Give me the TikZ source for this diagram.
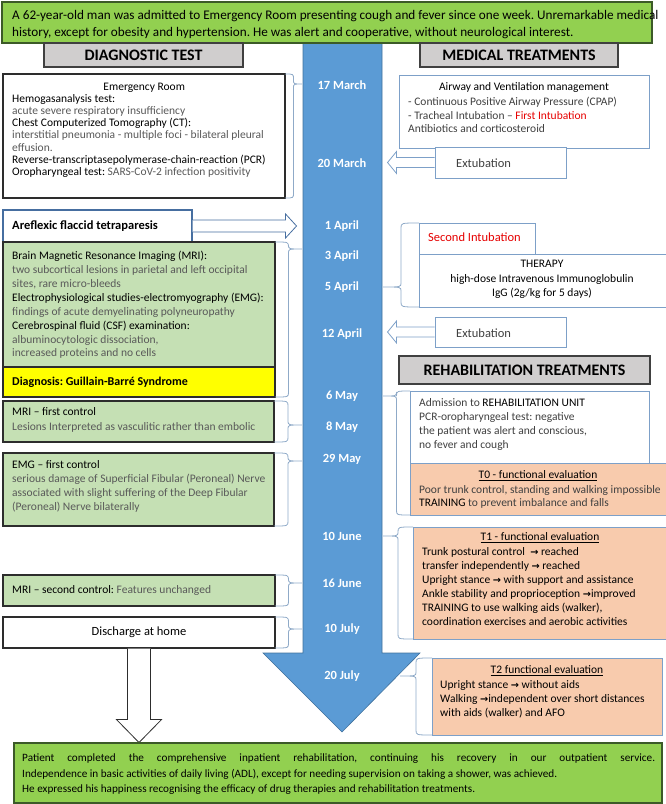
\documentclass[tikz,border=0pt]{standalone}
\usepackage{fontspec}
\setmainfont{Carlito}
\newfontfamily\symf[Scale=0.85]{DejaVu Sans}
\usetikzlibrary{calc,fit}
\AtBeginDocument{\frenchspacing}
\definecolor{bannerg}{RGB}{146,208,80}
\definecolor{bannerd}{RGB}{60,90,40}
\definecolor{hdrg}{RGB}{208,206,206}
\definecolor{hdrd}{RGB}{64,64,64}
\definecolor{shaftb}{RGB}{91,155,213}
\definecolor{shaftd}{RGB}{65,113,156}
\definecolor{lgreen}{RGB}{197,224,180}
\definecolor{peach}{RGB}{248,203,173}
\definecolor{ylw}{RGB}{255,255,0}
\definecolor{bracec}{RGB}{143,170,200}
\definecolor{rbord}{RGB}{125,160,200}
\definecolor{ldark}{RGB}{45,45,45}
\definecolor{dgray}{RGB}{89,89,89}
\definecolor{tgray}{RGB}{64,64,64}
\definecolor{redt}{RGB}{230,0,0}
\definecolor{arrb}{RGB}{70,110,160}
\newcommand{\rarw}{{\symf\bfseries →}}
\newcommand{\tlbrace}[5]{%
  \draw[bracestyle] (#1,#2) .. controls ({(#1+#4)/2},#2) .. ({(#1+#4)/2},{#2+5})
    -- ({(#1+#4)/2},{#5-4}) .. controls ({(#1+#4)/2},#5) .. (#4,#5)
    .. controls ({(#1+#4)/2},#5) .. ({(#1+#4)/2},{#5+4})
    -- ({(#1+#4)/2},{#3-5}) .. controls ({(#1+#4)/2},#3) .. (#1,#3);}
\begin{document}
\begin{tikzpicture}[x=1pt,y=-1pt,
  frameL/.style={draw=ldark,line width=1.1pt,inner sep=0pt},
  frameR/.style={draw=rbord,line width=0.9pt,inner sep=0pt},
  hdr/.style={draw=hdrd,fill=hdrg,line width=1.1pt,inner sep=0pt,font=\fontsize{16}{18}\selectfont\bfseries},
  txt/.style={inner sep=0pt,anchor=north west,align=left,font=\fontsize{11.5}{14}\selectfont},
  one/.style={inner sep=0pt,anchor=west},
  dt/.style={text=white,font=\fontsize{12.5}{14}\selectfont\bfseries,inner sep=0pt},
  bracestyle/.style={draw=bracec,line width=0.8pt},
  blk/.style={draw=arrb,line width=0.8pt,fill=white,line join=miter},
  ]
\useasboundingbox (0,0) rectangle (666,804);
% central time arrow
\filldraw[fill=shaftb,draw=shaftd,line width=0.6pt] (303,43) -- (382,43) -- (382,653) -- (420,653) -- (342,732) -- (263,653) -- (303,653) -- cycle;
% banner
\node[fit={(2,2) (652,43)},fill=bannerg,draw=bannerd,line width=1.2pt,inner sep=0pt] (banner) {};
\node[txt,font=\fontsize{13.2}{16.5}\selectfont] (bannertext) at (12,10.5) {A 62-year-old man was admitted to Emergency Room presenting cough and fever since one week. Unremarkable medical\\history, except for obesity and hypertension. He was alert and cooperative, without neurological interest.};
% headers
\node[hdr,fit={(44,43) (243,67)}] (hdiag) {};
\node[font=\fontsize{16}{18}\selectfont\bfseries,inner sep=0pt] (hdiagt) at (hdiag.center) {DIAGNOSTIC TEST};
\node[hdr,fit={(420,43) (618,67)}] (hmed) {};
\node[font=\fontsize{16}{18}\selectfont\bfseries,inner sep=0pt] (hmedt) at (hmed.center) {MEDICAL TREATMENTS};
\node[hdr,fit={(399,356) (650,384)}] (hreh) {};
\node[font=\fontsize{16}{18}\selectfont\bfseries,inner sep=0pt] (hreht) at (hreh.center) {REHABILITATION TREATMENTS};
% dates
\node[dt] (d1) at (342,85) {17 March};
\node[dt] (d2) at (342,163) {20 March};
\node[dt] (d3) at (342,226) {1 April};
\node[dt] (d4) at (342,256) {3 April};
\node[dt] (d5) at (342,287) {5 April};
\node[dt] (d6) at (342,334) {12 April};
\node[dt] (d7) at (342,396) {6 May};
\node[dt] (d8) at (342,427) {8 May};
\node[dt] (d9) at (342,459) {29 May};
\node[dt] (d10) at (342,536) {10 June};
\node[dt] (d11) at (342,583) {16 June};
\node[dt] (d12) at (342,629) {10 July};
\node[dt] (d13) at (342,676) {20 July};
% ---------------- left column
\node[frameL,fill=white,fit={(3,74) (285,198)}] (er) {};
\node[txt,font=\fontsize{11.5}{12.1}\selectfont] (ertext) at (12,83) {\makebox[264pt]{Emergency Room}\\
Hemogasanalysis test:\\
\textcolor{dgray}{acute severe respiratory insufficiency}\\
Chest Computerized Tomography (CT):\\
\textcolor{dgray}{interstitial pneumonia - multiple foci - bilateral pleural}\\
\textcolor{dgray}{effusion.}\\
Reverse-transcriptasepolymerase-chain-reaction (PCR)\\
Oropharyngeal test: \textcolor{dgray}{SARS-CoV-2 infection positivity}};
\node[frameL,draw=arrb,fill=white,fit={(3,210) (192,242)}] (are) {};
\node[one,font=\fontsize{12.5}{14}\selectfont\bfseries] (aretext) at (12,226) {Areflexic flaccid tetraparesis};
\draw[blk] ($(are.east)+(0,-6)$) -- ++(93,0) -- ++(0,-6) -- ++(11,12) -- ++(-11,12) -- ++(0,-6) -- ++(-93,0);
\node[frameL,fill=lgreen,fit={(3,242) (275,367)}] (gbox) {};
\node[txt,font=\fontsize{11.5}{13.9}\selectfont] (gtext) at (12,251) {Brain Magnetic Resonance Imaging (MRI):\\
\textcolor{dgray}{two subcortical lesions in parietal and left occipital}\\
\textcolor{dgray}{sites, rare micro-bleeds}\\
Electrophysiological studies-electromyography (EMG):\\
\textcolor{dgray}{findings of acute demyelinating polyneuropathy}\\
Cerebrospinal fluid (CSF) examination:\\
\textcolor{dgray}{albuminocytologic dissociation,}\\
\textcolor{dgray}{increased proteins and no cells}};
\node[frameL,fill=ylw,fit={(3,367) (275,397)}] (diag) {};
\node[one,font=\fontsize{12}{14}\selectfont\bfseries] (diagtext) at (12,382) {Diagnosis: Guillain-Barré Syndrome};
\node[frameL,fill=lgreen,fit={(3,401) (274,442)}] (mri1) {};
\node[txt,font=\fontsize{11.5}{15}\selectfont] (mri1text) at (12,407) {MRI -- first control\\
\textcolor{dgray}{Lesions Interpreted as vasculitic rather than embolic}};
\node[frameL,fill=lgreen,fit={(3,453) (274,526)}] (emg1) {};
\node[txt] (emg1text) at (12,460) {EMG -- first control\\
\textcolor{dgray}{serious damage of Superficial Fibular (Peroneal) Nerve}\\
\textcolor{dgray}{associated with slight suffering of the Deep Fibular}\\
\textcolor{dgray}{(Peroneal) Nerve bilaterally}};
\node[frameL,fill=lgreen,fit={(3,575) (275,606)}] (mri2) {};
\node[one,font=\fontsize{11.5}{14}\selectfont] (mri2text) at (12,590) {MRI -- second control: \textcolor{dgray}{Features unchanged}};
\node[frameL,fill=white,fit={(3,617) (275,648)}] (dis) {};
\node[font=\fontsize{12.5}{14}\selectfont,inner sep=0pt] (distext) at (139,632) {Discharge at home};
\draw[blk,draw=ldark] ($(dis.south)+(-11.5,0)$) -- ++(0,71) -- ++(-11,0) -- ++(22.5,23) -- ++(22.5,-23) -- ++(-11,0) -- ++(0,-71);
% left braces
\tlbrace{285}{74}{198}{302}{84}
\tlbrace{275}{242}{397}{302}{249}
\tlbrace{274}{401}{442}{302}{425}
\tlbrace{274}{453}{526}{302}{461}
\tlbrace{275}{575}{606}{302}{583}
\tlbrace{275}{617}{648}{302}{629}
% ---------------- right column
\node[frameR,fill=white,fit={(399,75) (649,148)}] (air) {};
\node[font=\fontsize{11.5}{14}\selectfont,inner sep=0pt] (airtitle) at (524,87) {Airway and Ventilation management};
\node[txt,font=\fontsize{11.5}{13.5}\selectfont] (airtext) at (408,97) {\textcolor{tgray}{- Continuous Positive Airway Pressure (CPAP)}\\
\textcolor{tgray}{- Tracheal Intubation --} \textcolor{redt}{First Intubation}\\
\textcolor{tgray}{Antibiotics and corticosteroid}};
\node[frameR,fill=white,fit={(435,147) (566,178)}] (ext1) {};
\node[one,font=\fontsize{12.5}{14}\selectfont,text=tgray] (ext1text) at (456,163) {Extubation};
\draw[blk,draw=rbord] ($(ext1.west)+(0,-5)$) -- ++(-38,0) -- ++(0,-6) -- ++(-9,11) -- ++(9,11) -- ++(0,-6) -- ++(38,0);
\node[frameR,fill=white,fit={(419,223) (535,254)}] (intub) {};
\node[one,font=\fontsize{12.5}{14}\selectfont,text=redt] (intubtext) at (428,237) {Second Intubation};
\node[frameR,fill=white,fit={(419,254) (667,307)}] (ther) {};
\node[inner sep=0pt,anchor=north,align=center,font=\fontsize{11.5}{14.5}\selectfont] (thertext) at (542,260) {THERAPY\\ high-dose Intravenous Immunoglobulin\\ IgG (2g/kg for 5 days)};
\tlbrace{419}{223}{307}{383}{287}
\node[frameR,fill=white,fit={(435,317) (566,347)}] (ext2) {};
\node[one,font=\fontsize{12.5}{14}\selectfont,text=tgray] (ext2text) at (456,333) {Extubation};
\draw[blk,draw=rbord] ($(ext2.west)+(0,-5)$) -- ++(-38,0) -- ++(0,-6) -- ++(-9,11) -- ++(9,11) -- ++(0,-6) -- ++(38,0);
\node[frameR,fill=white,fit={(410,391) (649,463)}] (adm) {};
\node[txt] (admtext) at (419,398) {\textcolor{tgray}{Admission to} REHABILITATION UNIT\\
\textcolor{tgray}{PCR-oropharyngeal test: negative}\\
\textcolor{tgray}{the patient was alert and conscious,}\\
\textcolor{tgray}{no fever and cough}};
\node[frameR,fill=peach,fit={(410,463) (667,515)}] (t0) {};
\node[font=\fontsize{11.5}{14}\selectfont,inner sep=0pt] (t0title) at (538,476) {\underline{T0 - functional evaluation}};
\node[txt,font=\fontsize{11.5}{13.5}\selectfont] (t0text) at (419,485) {\textcolor{tgray}{Poor trunk control, standing and walking impossible}\\
TRAINING \textcolor{tgray}{to prevent imbalance and falls}};
\tlbrace{410}{391}{515}{383}{396}
\node[frameR,fill=peach,fit={(413,527) (667,639)}] (t1) {};
\node[font=\fontsize{11.5}{14}\selectfont,inner sep=0pt] (t1title) at (540,538) {\underline{T1 - functional evaluation}};
\node[txt] (t1text) at (422,547) {Trunk postural control~ \rarw{} reached\\
transfer independently \rarw{} reached\\
Upright stance \rarw{} with support and assistance\\
Ankle stability and proprioception \rarw{}improved\\
TRAINING to use walking aids (walker),\\
coordination exercises and aerobic activities};
\tlbrace{413}{527}{639}{383}{536}
\node[frameR,fill=peach,fit={(432,658) (662,735)}] (t2) {};
\node[font=\fontsize{11.5}{14}\selectfont,inner sep=0pt] (t2title) at (547,671) {\underline{T2 functional evaluation}};
\node[txt] (t2text) at (440,680) {Upright stance \rarw{} without aids\\
Walking \rarw{}independent over short distances\\
with aids (walker) and AFO};
\tlbrace{432}{658}{735}{400}{676}
% bottom
\node[fit={(14,743) (662,803)},fill=bannerg,draw=bannerd,line width=1.2pt,inner sep=0pt] (final) {};
\node[txt,font=\fontsize{11.2}{15.5}\selectfont] (finaltext) at (22,754) {\makebox[633pt][s]{Patient completed the comprehensive inpatient rehabilitation, continuing his recovery in our outpatient service.}\\
Independence in basic activities of daily living (ADL), except for needing supervision on taking a shower, was achieved.\\
He expressed his happiness recognising the efficacy of drug therapies and rehabilitation treatments.};
\end{tikzpicture}
\end{document}
